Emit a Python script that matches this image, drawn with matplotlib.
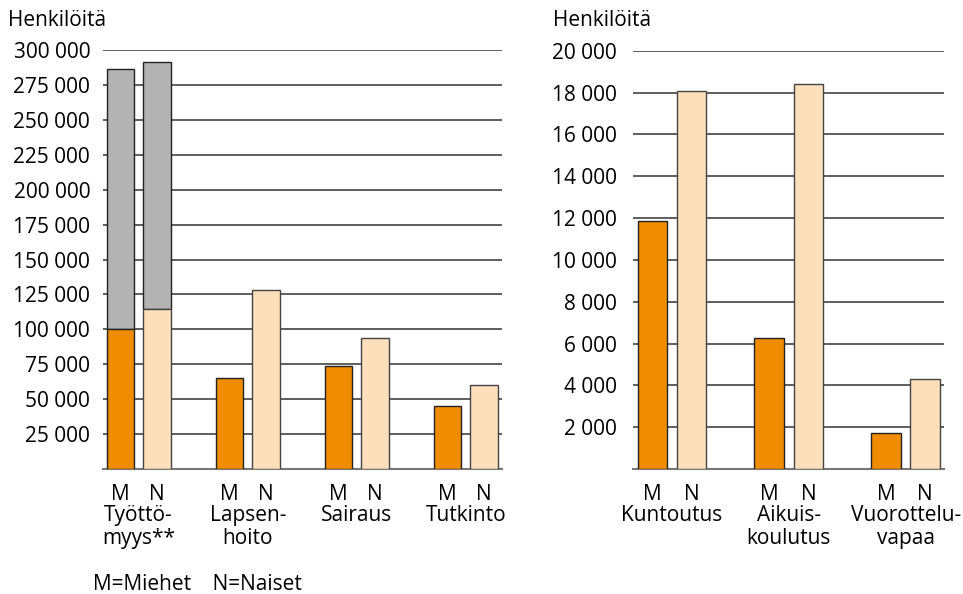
import numpy as np
import matplotlib
matplotlib.use("Agg")
import matplotlib.pyplot as plt
from matplotlib.ticker import FuncFormatter
from matplotlib.transforms import blended_transform_factory

plt.rcParams['font.family'] = ['Open Sans', 'DejaVu Sans']

# left panel
left_cats = ["Työttö-\nmyys**", "Lapsen-\nhoito", "Sairaus", "Tutkinto"]
left_men = [100000, 65000, 73500, 45000]
left_women = [114500, 128500, 93500, 60000]
left_total_men = [286500, 0, 0, 0]      # gray stack, only työttömyys
left_total_women = [291500, 0, 0, 0]

# right panel
right_cats = ["Kuntoutus", "Aikuis-\nkoulutus", "Vuorottelu-\nvapaa"]
right_men = [11850, 6250, 1700]
right_women = [18100, 18400, 4300]

ORANGE = "#EF8C00"
LIGHT = "#FDDFBB"
GRAY = "#B3B3B3"
EDGE = "#222222"
FS = 15

fig = plt.figure(figsize=(9.63, 5.94), dpi=100)
ax1 = fig.add_axes([0.1066, 0.2104, 0.4146, 0.7054])
ax2 = fig.add_axes([0.6576, 0.2104, 0.3230, 0.7040])

def space_fmt(v, pos):
    if v == 0:
        return ""
    return f"{int(v):,}".replace(",", " ")

def draw(ax, cats, men, women, ymax, step, tot_m=None, tot_w=None):
    x = np.arange(len(cats))
    off = 0.1675
    w = 0.254
    if tot_m is not None:
        idx = [i for i in range(len(cats)) if tot_m[i] > 0]
        ax.bar(x[idx] - off, [tot_m[i] - men[i] for i in idx], w,
               bottom=[men[i] for i in idx], color=GRAY, edgecolor=EDGE, lw=1, zorder=3)
        ax.bar(x[idx] + off, [tot_w[i] - women[i] for i in idx], w,
               bottom=[women[i] for i in idx], color=GRAY, edgecolor=EDGE, lw=1, zorder=3)
    ax.bar(x - off, men, w, color=ORANGE, edgecolor=EDGE, lw=1, zorder=3)
    ax.bar(x + off, women, w, color=LIGHT, edgecolor="#444444", lw=1, zorder=3)

    ax.set_xlim(-0.331, len(cats) - 1 + 0.331)
    ax.set_ylim(0, ymax)
    ax.set_yticks(np.arange(0, ymax + 1, step))
    ax.yaxis.set_major_formatter(FuncFormatter(space_fmt))
    ax.yaxis.grid(True, color="#333333", lw=1.1)
    ax.set_axisbelow(True)
    for s in ["top", "right", "left"]:
        ax.spines[s].set_visible(False)
    ax.spines["bottom"].set_color("#777777")
    ax.spines["bottom"].set_linewidth(1.5)
    ax.tick_params(axis="y", length=0, labelsize=FS, pad=9)
    ax.tick_params(axis="x", length=0, labelsize=FS, pad=11)

    pos = np.concatenate([x - off, x + off])
    ax.set_xticks(pos)
    ax.set_xticklabels(["M"] * len(cats) + ["N"] * len(cats))

    tr = blended_transform_factory(ax.transData, ax.transAxes)
    for i, c in enumerate(cats):
        ax.text(x[i], -0.086, c, transform=tr, ha="center", va="top",
                fontsize=FS, linespacing=1.12, multialignment="center")

draw(ax1, left_cats, left_men, left_women, 300000, 25000, left_total_men, left_total_women)
draw(ax2, right_cats, right_men, right_women, 20000, 2000)
ax2.tick_params(axis="y", pad=12)

fig.text(8 / 963, 1 - 20 / 594, "Henkilöitä", fontsize=FS, va="center", ha="left")
fig.text(553 / 963, 1 - 20 / 594, "Henkilöitä", fontsize=FS, va="center", ha="left")
fig.text(93 / 963, 1 - 584 / 594, "M=Miehet    N=Naiset", fontsize=FS, va="center", ha="left")

fig.savefig("out.png", dpi=100)
